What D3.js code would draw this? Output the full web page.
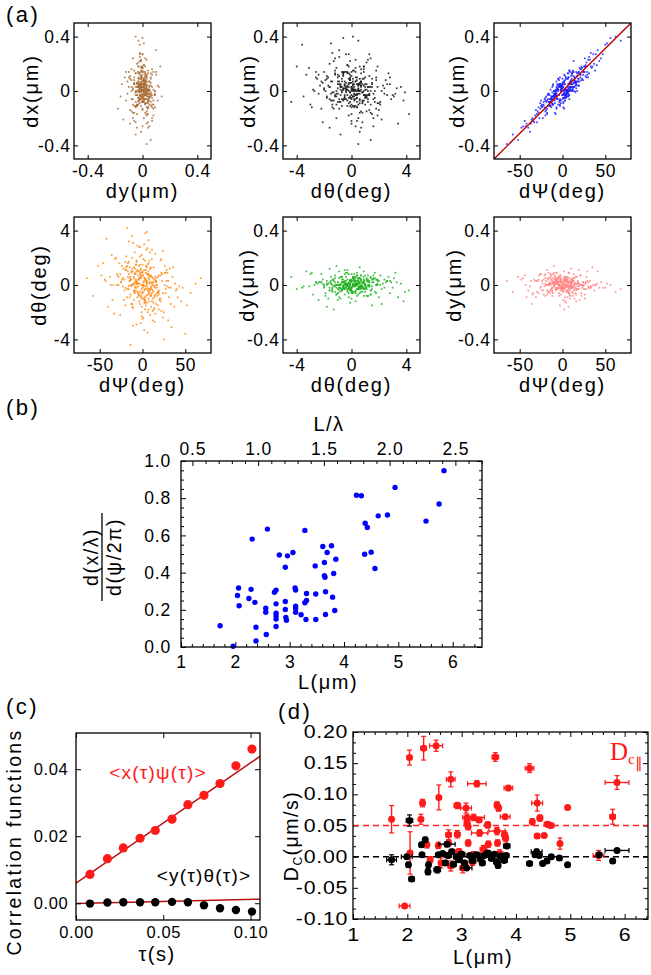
<!DOCTYPE html>
<html><head><meta charset="utf-8">
<script src="https://cdn.jsdelivr.net/npm/d3@7"></script>
<style>body{margin:0;background:#fff}</style>
</head><body>
<script>
// ================= DATA =================
// (a) step-to-step fluctuations of one set of trajectories.
// dPsi in deg, dX and dY in units of 0.01 µm, dTheta in units of 0.1 deg
const dPsi=[5,-12,23,-3,17,-28,9,0,-15,31,-7,12,
-21,4,14,-9,38,-2,7,-18,26,-33,11,-5,
2,19,-11,-25,8,45,-14,3,-6,21,-40,15,
-1,28,-17,10,-8,6,-30,13,35,-4,24,-13,
16,-22,1,-10,50,-19,7,29,-36,4,-3,18,
-27,9,-16,22,-7,2,41,-12,14,-24,6,-52,
11,-2,33,-9,20,-14,0,25,-20,8,-43,13,
3,-31,17,-6,27,10,-18,56,-11,5,-26,19,
-8,14,-3,30,-21,7,-13,1,39,-16,23,-35,
6,-10,16,-29,12,-4,47,-23,2,26,-7,9,
-15,32,-1,-38,15,4,-19,21,-5,11,62,-12,
18,-26,8,-2,36,-9,13,-46,3,24,-14,0,
10,-20,28,-11,5,-32,19,7,-6,43,-17,2,
-24,15,-3,22,-8,34,-13,4,-58,12,-1,27,
7,-16,20,-37,9,-5,16,52,-22,1,-9,30,
-12,3,-28,13,25,-7,8,-42,17,-2,37,-19,
14,-4,11,-23,29,6,-15,2,-34,21,-10,68,
-6,24,-18,9,-48,16,3,-12,31,-25,5,40,
1,-9,19,-30,12,-2,26,-17,8,-65,15,-7,
22,-14,4,33,-20,10,-3,18,-44,7,27,-11,
3,-6,10,-2,7,-11,1,5,-8,14,-4,0,
-9,6,-1,12,-5,2,-14,8,4,-3,17,-7,
0,9,-12,5,-2,11,-6,3,-16,7,-1,13,
-4,2,15,-9,6,-13,1,10,-5,4,-20,8,
11,-3,0,-7,19,-10,5,-1,9,-15,2,6,
-2,13,-8,3,-12,7,0,-5,16,-9,4,-3,
8,-15,2,10,-4,1,-10,6,-2,12,-6,21,
-7,4,-3,9,0,-18,11,-1,5,-8,3,14,
1,-5,7,-12,15,-2,4,-9,10,0,-13,6,
-10,3,12,-4,2,8,-16,5,-1,18,-7,0];
const dX=[-1,-1,17,-10,13,-12,3,9,-10,13,0,5,
-6,-3,10,-3,15,5,2,-7,24,-23,0,9,
-5,14,-10,-11,15,24,-8,-7,2,16,-27,4,
2,10,-3,5,-17,9,-17,22,18,5,12,-7,
5,-10,-9,0,34,-14,13,12,-21,-2,5,13,
-20,14,-8,8,7,-3,30,-6,0,-12,3,-36,
13,-9,18,-2,7,1,-3,18,-5,-6,-26,11,
1,-14,4,5,19,3,-17,39,5,-2,-13,4,
-1,7,5,10,-12,10,-12,-12,27,-2,9,-20,
13,-5,6,-15,0,3,27,-20,12,18,-13,3,
-11,23,4,-30,-1,10,-8,12,-10,13,40,3,
7,-9,-3,1,27,-7,3,-26,11,8,-8,-3,
7,-18,21,4,0,-18,4,10,-6,22,-2,-13,
-10,6,-11,16,1,17,-5,-5,-32,15,0,11,
-3,-8,17,-24,2,9,2,35,-8,-2,-16,23,
-4,-7,-16,14,14,3,0,-24,0,3,20,-4,
3,8,5,-11,14,-4,-3,6,-22,10,-4,37,
4,14,-16,7,-27,14,-5,-9,25,-7,-1,19,
-8,-3,14,-23,14,-7,14,-6,15,-39,6,-12,
18,-11,-4,28,-15,8,10,7,-22,-4,18,-4,
5,-6,1,3,5,-10,7,-1,-3,8,3,-6,
-9,9,1,1,1,0,-6,3,9,-7,11,-3,
4,3,-6,-4,1,12,-6,8,-11,0,2,3,
-3,7,6,-4,-1,-4,-5,7,0,0,-7,1,
9,-6,5,-5,9,0,1,2,0,-8,5,-1,
4,6,-2,-2,-6,-2,2,1,7,0,1,-7,
1,-6,-1,11,-8,3,-2,1,0,2,2,12,
-2,-3,4,5,3,-13,3,4,0,-1,-4,10,
-5,1,5,-10,7,4,-3,-4,5,6,-5,0,
-3,1,3,4,-2,6,-8,-2,3,9,1,-3];
const dY=[2,-5,0,7,-3,4,-8,1,5,-2,9,-6,
-1,3,-10,6,0,-4,2,11,-7,4,-2,1,
5,-3,8,-1,-6,2,0,-12,3,7,-4,1,
-2,6,-5,0,4,-9,3,-1,13,-6,2,-3,
1,-7,4,9,-2,0,-5,3,-14,6,-1,2,
7,-3,1,-6,5,-2,10,-8,0,3,-4,6,
-5,2,-1,4,-11,8,1,-3,5,-7,0,3,
4,-9,6,-2,1,12,-4,0,-6,3,8,-1,
-3,5,-15,2,7,-1,4,-5,0,9,-2,-7,
6,0,-4,3,-8,5,-2,1,10,-3,4,-10,
-6,3,2,-1,6,-13,0,7,-3,4,-5,1,
3,-2,9,-7,0,4,-1,5,-9,2,6,-4,
0,8,-3,1,-5,3,11,-6,2,-2,5,-18,
-4,1,6,-8,3,-1,7,0,-5,4,-3,2,
9,-5,0,3,-2,6,-7,1,4,-11,2,-1,
-2,4,-6,8,0,-3,5,-9,1,7,-4,3,
1,-8,3,-4,10,-1,2,6,-6,0,14,-3,
5,-1,-7,2,4,-12,0,3,-2,8,-5,1,
-3,7,1,-5,2,5,-10,4,-1,3,-6,9,
0,-4,6,-2,-8,1,3,-3,7,-16,2,5,
1,-2,4,0,-3,2,-1,3,-4,1,0,-2,
2,-1,-3,5,0,-2,1,-4,3,0,-1,2,
-3,0,2,-1,4,-2,3,0,-5,1,2,-1,
0,3,-2,1,-1,4,-3,2,0,-4,1,3,
-1,2,0,-3,1,-1,5,-2,2,0,-3,1,
3,-4,1,0,-2,2,-1,4,-3,1,0,-2,
-2,1,3,-1,0,-5,2,-1,4,-2,1,0,
4,-1,-2,2,-3,0,1,-1,3,-2,5,-3,
0,2,-1,-4,1,3,-2,0,-1,2,-3,4,
-1,0,3,-2,2,-1,0,4,-2,-3,1,2];
const dTheta=[8,-14,3,21,-6,0,12,-25,5,-2,17,-10,
-4,26,-17,9,1,-9,33,-3,14,-21,6,-1,
11,-7,-30,2,18,-12,4,38,-5,7,-16,23,
-20,3,10,-8,15,-2,0,-13,6,28,-24,9,
2,-11,19,-4,-36,13,7,-1,22,-15,5,-6,
16,-3,8,-19,1,30,-9,12,-27,4,-7,14,
-12,6,-2,24,-10,0,9,-40,17,-5,3,-18,
5,20,-8,11,-3,-16,42,-6,1,13,-22,7,
-1,-9,15,-26,4,10,-14,2,-4,32,8,-11,
27,-5,0,7,-19,14,-2,5,-33,9,18,-8,
3,12,-23,6,-7,-1,21,-12,10,-3,1,36,
-15,8,4,-28,13,-6,2,16,-9,25,-44,0,
7,-2,11,-17,3,19,-5,-10,29,-1,6,-13,
14,-21,1,9,-4,-31,10,4,-8,2,22,-6,
-3,17,-11,0,24,-7,5,-15,12,-24,8,3,
10,-13,6,-5,-20,15,1,34,-2,7,-16,11,
-8,4,26,-1,9,-35,13,-4,0,18,-11,5,
1,-6,14,-22,7,3,-18,20,-9,2,39,-3,
-10,12,-4,8,-26,6,0,16,-12,5,-2,-29,
19,-7,2,-14,11,-1,28,-5,4,-18,9,31,
4,-9,2,12,-5,0,7,-13,3,-1,10,-6,
-2,15,-8,5,1,-11,6,-3,9,-14,0,3,
7,-4,-16,1,11,-6,2,18,-3,5,-10,13,
-12,3,6,-5,8,-1,0,-7,4,14,-15,2,
1,-7,10,-2,-18,6,3,0,12,-9,5,-4,
9,-1,4,-11,0,16,-6,7,-14,2,-3,8,
-6,3,-1,13,-8,0,5,-20,9,-4,1,-10,
2,11,-5,6,-2,-9,19,-3,0,8,-12,4,
-1,-6,8,-14,3,5,-8,1,-2,15,4,-7,
13,-3,0,5,-10,7,-1,2,-16,6,10,-5];
const umTicks=[-0.4,0,0.4], umTickLabels=["-0.4","0","0.4"];
const degSmallTicks=[-4,0,4], degSmallTickLabels=["-4","0","4"];
const psiTicks=[-50,0,50], psiTickLabels=["-50","0","50"];
const fitPsiX=[[-80,-0.5],[80,0.5]];   // red line in dx vs dΨ

// (b)
const bL=[1.72,1.96,2.04,2.06,2.07,2.25,2.29,2.31,2.36,2.38,2.38,2.56,2.56,2.57,2.59,2.72,2.75,2.75,2.75,2.75,2.75,2.75,2.81,2.92,2.92,2.92,2.93,2.94,2.96,3.06,3.10,3.11,3.11,3.11,3.11,3.21,3.28,3.28,3.30,3.31,3.31,3.47,3.48,3.48,3.61,3.64,3.64,3.65,3.66,3.66,3.69,3.77,3.79,3.81,3.83,3.85,4.23,4.32,4.38,4.39,4.43,4.50,4.57,4.63,4.80,4.94,5.51,5.75,5.84];
const bRatio=[0.114,0.004,0.277,0.317,0.222,0.261,0.31,0.58,0.24,0.106,0.032,0.187,0.209,0.067,0.634,0.294,0.306,0.232,0.182,0.166,0.15,0.11,0.495,0.429,0.245,0.202,0.159,0.144,0.49,0.508,0.317,0.306,0.22,0.207,0.187,0.173,0.627,0.238,0.148,0.288,0.25,0.436,0.148,0.285,0.54,0.454,0.384,0.375,0.297,0.175,0.508,0.544,0.268,0.395,0.196,0.472,0.816,0.813,0.499,0.665,0.643,0.51,0.422,0.705,0.71,0.858,0.677,0.769,0.948];
const lambda=2.42;
const bTicks=[1,2,3,4,5,6], bTopTicks=[0.5,1.0,1.5,2.0,2.5], bTopTickLabels=["0.5","1.0","1.5","2.0","2.5"];
const bYTicks=[0,0.2,0.4,0.6,0.8,1.0], bYTickLabels=["0.0","0.2","0.4","0.6","0.8","1.0"];

// (c)
const tau=[0.0080,0.0180,0.0271,0.0367,0.0454,0.0550,0.0641,0.0733,0.0825,0.0916,0.1008];
const corrXPsi=[0.0086,0.0133,0.0165,0.0194,0.0217,0.0251,0.0294,0.0322,0.0357,0.0410,0.0460];
const corrYTheta=[-0.0001,0.0002,0.0003,0.0003,0.0003,0.0004,0.0003,-0.0006,-0.0015,-0.0020,-0.0025];
const fitXPsi={a:0.0060,b:0.359}, fitYTheta={a:-0.0001,b:0.0124};
const cXTicks=[0,0.05,0.10], cXTickLabels=["0.00","0.05","0.10"];
const cYTicks=[0,0.02,0.04], cYTickLabels=["0.00","0.02","0.04"];

// (d)
const redL=[1.71,2.04,2.30,2.53,2.80,3.28,3.62,3.86,4.25,4.39,4.95,5.86,5.78,2.28,2.58,2.25,2.05,2.36,2.57,2.92,3.08,3.10,3.10,3.12,3.22,3.32,3.48,3.65,3.33,2.76,2.92,3.79,3.81,3.66,3.49,3.12,2.76,3.65,3.68,3.80,4.30,4.44,4.58,4.64,4.39,4.52,4.81,5.52,1.95,2.62,2.80,3.02,3.20,2.42,3.22,3.70,2.95,3.40];
const redD=[0.060,0.159,0.174,0.178,0.124,0.117,0.160,0.110,0.142,0.086,0.079,0.119,0.064,0.086,0.095,0.060,0.006,0.019,0.018,0.082,0.078,0.062,0.054,0.048,0.063,0.059,0.051,0.041,0.038,0.035,0.036,0.035,0.030,0.022,0.020,0.022,0.022,0.083,0.078,0.064,0.056,0.062,0.052,0.050,0.033,0.034,0.021,0.002,-0.079,-0.010,-0.015,-0.018,-0.008,-0.005,0.003,0.005,0.008,0.012];
const redLerr=[0.03,0.04,0.05,0.12,0.08,0.17,0.06,0.08,0.08,0.10,0.03,0.22,0.05,0.04,0.04,0.04,0.04,0.03,0.03,0.06,0.10,0.05,0.05,0.04,0.20,0.05,0.05,0.15,0.15,0.05,0.05,0.05,0.05,0.04,0.04,0.04,0.04,0.04,0.04,0.09,0.04,0.05,0.06,0.06,0.04,0.04,0.04,0.10,0.10,0.04,0.05,0.05,0.06,0.04,0.06,0.06,0.05,0.06];
const redDerr=[0.022,0.012,0.019,0.009,0.012,0.005,0.007,0.004,0.007,0.013,0.003,0.011,0.012,0.006,0.020,0.008,0.034,0.005,0.005,0.005,0.008,0.006,0.006,0.005,0.005,0.004,0.005,0.006,0.005,0.008,0.006,0.006,0.006,0.005,0.005,0.005,0.005,0.005,0.005,0.003,0.005,0.005,0.004,0.004,0.003,0.003,0.009,0.008,0.003,0.008,0.008,0.008,0.006,0.005,0.005,0.006,0.005,0.006];
const blackL=[1.71,1.99,2.04,2.02,2.08,2.26,2.33,2.27,2.39,2.38,2.55,2.57,2.73,2.65,2.75,2.82,2.90,2.95,3.00,3.05,3.09,3.15,3.20,3.28,3.35,3.42,3.48,3.55,3.60,3.64,3.67,3.72,3.78,3.83,3.82,2.70,2.85,3.38,4.25,4.38,4.35,4.43,4.49,4.57,4.65,4.80,4.95,5.53,5.78,5.86];
const blackD=[-0.005,0.000,0.058,-0.013,-0.036,0.019,0.027,0.003,-0.013,-0.024,-0.021,0.003,0.020,0.005,0.002,0.008,0.000,-0.005,0.004,-0.010,-0.018,0.002,-0.006,0.003,-0.004,0.002,0.006,-0.003,0.004,-0.008,-0.014,0.001,-0.006,0.017,0.002,-0.010,-0.012,-0.010,-0.011,0.008,0.003,0.002,-0.011,-0.007,0.000,-0.002,-0.013,0.003,-0.007,0.010];
const blackLerr=[0.09,0.10,0.06,0.03,0.05,0.03,0.03,0.04,0.03,0.04,0.06,0.03,0.15,0.05,0.06,0.05,0.05,0.06,0.06,0.05,0.10,0.05,0.06,0.06,0.05,0.06,0.05,0.05,0.05,0.05,0.04,0.05,0.06,0.06,0.05,0.05,0.05,0.05,0.05,0.10,0.04,0.04,0.04,0.04,0.04,0.04,0.03,0.05,0.04,0.22];
const blackDerr=[0.008,0.003,0.009,0.004,0.003,0.004,0.004,0.003,0.004,0.005,0.005,0.003,0.004,0.003,0.004,0.004,0.003,0.004,0.004,0.004,0.004,0.003,0.004,0.003,0.003,0.003,0.003,0.003,0.003,0.004,0.004,0.003,0.003,0.003,0.003,0.004,0.004,0.004,0.003,0.004,0.003,0.003,0.003,0.003,0.003,0.003,0.003,0.003,0.003,0.003];
const dRefLevels=[0.05,0.0];
const dXTicks=[1,2,3,4,5,6];
const dYTicks=[-0.10,-0.05,0,0.05,0.10,0.15,0.20], dYTickLabels=["-0.10","-0.05","0.00","0.05","0.10","0.15","0.20"];

// ================= DRAWING =================
const FONT='"Liberation Sans", Arial, Helvetica, sans-serif';
const svg=d3.select("body").append("svg").attr("width",651).attr("height",975).style("display","block");
svg.append("rect").attr("width",651).attr("height",975).attr("fill","#fff");

function txt(g,x,y,s,o={}){
  const t=g.append("text").attr("x",x).attr("y",y).text(s)
    .attr("font-family",o.family||FONT).attr("font-size",o.size||19)
    .attr("fill",o.fill||"#000").attr("text-anchor",o.anchor||"middle");
  if(o.ls!=null) t.attr("letter-spacing",o.ls);
  if(o.dy) t.attr("dy",o.dy);
  if(o.rot!=null) t.attr("transform",`rotate(${o.rot},${x},${y})`);
  return t;
}
function drawAxis(g,axis,tx,ty,fs,ls,sx){
  const a=g.append("g").attr("transform",`translate(${tx},${ty})`).call(axis);
  a.attr("font-size",null).attr("font-family",null);
  a.select(".domain").remove();
  a.selectAll(".tick line").attr("stroke","#000").attr("stroke-width",1);
  a.selectAll(".tick text").attr("font-family",FONT).attr("font-size",fs).attr("fill","#000")
    .attr("letter-spacing",ls||0);
  if(sx) a.selectAll(".tick text").attr("transform",`scale(${sx},1)`);
  return a;
}
function frame(g,x0,y0,x1,y1,sw){
  g.append("rect").attr("x",x0).attr("y",y0).attr("width",x1-x0).attr("height",y1-y0)
   .attr("fill","none").attr("stroke","#000").attr("stroke-width",sw||1.3);
}
function fourSide(g,xs,ys,x0,y0,x1,y1,xt,yt,len,xl,yl,fs,ls,padX,padY,sx){
  drawAxis(g,d3.axisBottom(xs).tickValues(xt).tickSize(-len).tickPadding(padX).tickFormat(xl?((d,i)=>xl[i]):""),0,y1,fs,ls,sx);
  drawAxis(g,d3.axisTop(xs).tickValues(xt).tickSize(-len).tickFormat(""),0,y0,fs,ls);
  drawAxis(g,d3.axisLeft(ys).tickValues(yt).tickSize(-len).tickPadding(padY).tickFormat(yl?((d,i)=>yl[i]):""),x0,0,fs,ls,sx);
  drawAxis(g,d3.axisRight(ys).tickValues(yt).tickSize(-len).tickFormat(""),x1,0,fs,ls);
}

// ---------- (a) ----------
const gA=svg.append("g");
txt(gA,6,22,"(a)",{size:22,anchor:"start",ls:2.5});
const aCols=[[74,211],[283,420],[494,631]];
const aRows=[[23,159],[217,353]];
const V={
  dPsi:{vals:dPsi,unit:1,domain:[-80,80],ticks:psiTicks,labels:psiTickLabels,title:"dΨ(deg)"},
  dX:{vals:dX,unit:0.01,domain:[-0.5,0.5],ticks:umTicks,labels:umTickLabels,title:"dx(μm)"},
  dY:{vals:dY,unit:0.01,domain:[-0.5,0.5],ticks:umTicks,labels:umTickLabels,title:"dy(μm)"},
  dTheta:{vals:dTheta,unit:0.1,domain:[-5,5],ticks:degSmallTicks,labels:degSmallTickLabels,title:"dθ(deg)"}
};
const aPanels=[
  {row:0,col:0,x:"dY",y:"dX",color:"#a86c33",yt:31},
  {row:0,col:1,x:"dTheta",y:"dX",color:"#111111",yt:248},
  {row:0,col:2,x:"dPsi",y:"dX",color:"#1a1aff",yt:457,fit:true},
  {row:1,col:0,x:"dPsi",y:"dTheta",color:"#ff8a14",yt:39},
  {row:1,col:1,x:"dTheta",y:"dY",color:"#1cb01c",yt:247},
  {row:1,col:2,x:"dPsi",y:"dY",color:"#ff8484",yt:454}
];
aPanels.forEach((p,k)=>{
  const [x0,x1]=aCols[p.col],[y0,y1]=aRows[p.row];
  const X=V[p.x],Y=V[p.y];
  const n=Math.min(X.vals.length,Y.vals.length);
  const xs=d3.scaleLinear().domain(X.domain).range([x0,x1]);
  const ys=d3.scaleLinear().domain(Y.domain).range([y1,y0]);
  const g=gA.append("g");
  const cid="clipA"+k;
  g.append("clipPath").attr("id",cid).append("rect").attr("x",x0).attr("y",y0).attr("width",x1-x0).attr("height",y1-y0);
  const pts=g.append("g").attr("clip-path",`url(#${cid})`);
  pts.selectAll("rect").data(d3.range(n)).join("rect")
    .attr("x",i=>xs(X.vals[i]*X.unit)-0.85).attr("y",i=>ys(Y.vals[i]*Y.unit)-0.85)
    .attr("width",1.7).attr("height",1.7).attr("fill",p.color).attr("fill-opacity",0.85);
  if(p.fit){
    pts.append("line").attr("x1",xs(fitPsiX[0][0])).attr("y1",ys(fitPsiX[0][1]))
      .attr("x2",xs(fitPsiX[1][0])).attr("y2",ys(fitPsiX[1][1]))
      .attr("stroke","#c00000").attr("stroke-width",1.4);
  }
  fourSide(g,xs,ys,x0,y0,x1,y1,X.ticks,Y.ticks,4,X.labels,Y.labels,17.5,0.6,5.6,3.5);
  txt(g,(x0+x1)/2,p.row===0?198:392,X.title,{size:20,ls:1.8});
  txt(g,p.yt,(y0+y1)/2,Y.title,{size:20,ls:1.8,rot:-90,dy:"0.35em"});
  frame(g,x0,y0,x1,y1);
});

// ---------- (b) ----------
const gB=svg.append("g");
txt(gB,6,415,"(b)",{size:22,anchor:"start",ls:2.5});
{
  const x0=181,x1=482,y0=461,y1=647;
  const xs=d3.scaleLinear().domain([1,6.54]).range([x0,x1]);
  const xt=d3.scaleLinear().domain([1/lambda,6.54/lambda]).range([x0,x1]);
  const ys=d3.scaleLinear().domain([0,1]).range([y1,y0]);
  const minorX=d3.range(1.2,6.54,0.2).filter(v=>Math.abs(v-Math.round(v))>0.05);
  const minorT=d3.range(0.5,2.71,0.1).filter(v=>Math.abs(v*2-Math.round(v*2))>0.05);
  const minorY=d3.range(0.05,1.0,0.05).filter(v=>Math.abs(v*5-Math.round(v*5))>0.05);
  drawAxis(gB,d3.axisBottom(xs).tickValues(minorX).tickSize(-3).tickFormat(""),0,y1,17);
  drawAxis(gB,d3.axisLeft(ys).tickValues(minorY).tickSize(-3).tickFormat(""),x0,0,17);
  drawAxis(gB,d3.axisRight(ys).tickValues(minorY).tickSize(-3).tickFormat(""),x1,0,17);
  drawAxis(gB,d3.axisTop(xt).tickValues(minorT).tickSize(-3).tickFormat(""),0,y0,17);
  drawAxis(gB,d3.axisBottom(xs).tickValues(bTicks).tickSize(-5).tickPadding(9).tickFormat(d=>String(d)),0,y1,17.5,0.8);
  drawAxis(gB,d3.axisTop(xt).tickValues(bTopTicks).tickSize(-5).tickPadding(6).tickFormat((d,i)=>bTopTickLabels[i]),0,y0,17.5,0.8);
  drawAxis(gB,d3.axisLeft(ys).tickValues(bYTicks).tickSize(-5).tickPadding(10).tickFormat((d,i)=>bYTickLabels[i]),x0,0,17.5,0.8);
  drawAxis(gB,d3.axisRight(ys).tickValues(bYTicks).tickSize(-5).tickFormat(""),x1,0,17);
  gB.append("g").selectAll("circle").data(d3.range(bL.length)).join("circle")
    .attr("cx",i=>xs(bL[i])).attr("cy",i=>ys(bRatio[i])).attr("r",2.7).attr("fill","#0000ff");
  frame(gB,x0,y0,x1,y1);
  txt(gB,329,431,"L/λ",{size:20,ls:1.5});
  txt(gB,328,689,"L(μm)",{size:20,ls:1.5});
  const fr=gB.append("g").attr("transform","translate(102,557) rotate(-90)");
  fr.append("line").attr("x1",-44).attr("x2",44).attr("y1",0).attr("y2",0).attr("stroke","#000").attr("stroke-width",1.3);
  txt(fr,0,-4,"d(x/λ)",{size:19.5,ls:1.5});
  txt(fr,0,19,"d(ψ/2π)",{size:19.5,ls:1.5});
}

// ---------- (c) ----------
const gC=svg.append("g");
txt(gC,6,714,"(c)",{size:22,anchor:"start",ls:2.5});
{
  const x0=76,x1=260,y0=733,y1=920;
  const xs=d3.scaleLinear().domain([0,0.1054]).range([x0,x1]);
  const ys=d3.scaleLinear().domain([-0.005,0.0508]).range([y1,y0]);
  gC.append("clipPath").attr("id","clipC").append("rect").attr("x",x0).attr("y",y0).attr("width",x1-x0).attr("height",y1-y0);
  const pc=gC.append("g").attr("clip-path","url(#clipC)");
  [fitXPsi,fitYTheta].forEach(f=>{
    const dom=xs.domain();
    pc.append("line").attr("x1",xs(dom[0])).attr("y1",ys(f.a+f.b*dom[0]))
      .attr("x2",xs(dom[1])).attr("y2",ys(f.a+f.b*dom[1])).attr("stroke","#b81010").attr("stroke-width",1.5);
  });
  pc.selectAll("circle.r").data(d3.range(tau.length)).join("circle").attr("class","r")
    .attr("cx",i=>xs(tau[i])).attr("cy",i=>ys(corrXPsi[i])).attr("r",4.6).attr("fill","#ff1a1a");
  pc.selectAll("circle.k").data(d3.range(tau.length)).join("circle").attr("class","k")
    .attr("cx",i=>xs(tau[i])).attr("cy",i=>ys(corrYTheta[i])).attr("r",4.2).attr("fill","#000");
  fourSide(gC,xs,ys,x0,y0,x1,y1,cXTicks,cYTicks,5,cXTickLabels,cYTickLabels,16.5,0.6,6.6,7.7);
  frame(gC,x0,y0,x1,y1);
  txt(gC,158,779,"<x(τ)ψ(τ)>",{size:19,ls:1.2,fill:"#ff1a1a"});
  txt(gC,204,882,"<y(τ)θ(τ)>",{size:19,ls:1.2});
  txt(gC,157,961,"τ(s)",{size:20,ls:1.5});
  txt(gC,14,842,"Correlation functions",{size:19.5,ls:2.3,rot:-90,dy:"0.35em"});
}

// ---------- (d) ----------
const gD=svg.append("g");
txt(gD,278,719,"(d)",{size:22,anchor:"start",ls:2.5});
{
  const x0=353,x1=648,y0=732,y1=919;
  const xs=d3.scaleLinear().domain([1,6.43]).range([x0,x1]);
  const ys=d3.scaleLinear().domain([-0.1,0.2]).range([y1,y0]);
  const minorX=d3.range(1.2,6.43,0.2).filter(v=>Math.abs(v-Math.round(v))>0.05);
  const minorY=d3.range(0,19).map(k=>-0.1+k*0.05/3).filter((v,k)=>k%3!==0);
  drawAxis(gD,d3.axisBottom(xs).tickValues(minorX).tickSize(-3).tickFormat(""),0,y1,17);
  drawAxis(gD,d3.axisTop(xs).tickValues(minorX).tickSize(-3).tickFormat(""),0,y0,17);
  drawAxis(gD,d3.axisLeft(ys).tickValues(minorY).tickSize(-3).tickFormat(""),x0,0,17);
  drawAxis(gD,d3.axisRight(ys).tickValues(minorY).tickSize(-3).tickFormat(""),x1,0,17);
  fourSide(gD,xs,ys,x0,y0,x1,y1,dXTicks,dYTicks,5,dXTicks.map(String),dYTickLabels,17.5,0.6,9.5,4,1.22);
  gD.append("clipPath").attr("id","clipD").append("rect").attr("x",x0).attr("y",y0).attr("width",x1-x0).attr("height",y1-y0);
  const pd=gD.append("g").attr("clip-path","url(#clipD)");
  const lvlCol=["#ff2020","#000"];
  dRefLevels.forEach((v,i)=>pd.append("line").attr("x1",x0).attr("x2",x1).attr("y1",ys(v)).attr("y2",ys(v))
    .attr("stroke",lvlCol[i]).attr("stroke-width",1.5).attr("stroke-dasharray","6,4"));
  function series(L,D,Le,De,col){
    const g=pd.append("g");
    const idx=d3.range(L.length);
    g.selectAll("line.h").data(idx).join("line").attr("class","h")
      .attr("x1",i=>xs(L[i]-Le[i])).attr("x2",i=>xs(L[i]+Le[i])).attr("y1",i=>ys(D[i])).attr("y2",i=>ys(D[i]))
      .attr("stroke",col).attr("stroke-width",1.4);
    g.selectAll("line.v").data(idx).join("line").attr("class","v")
      .attr("x1",i=>xs(L[i])).attr("x2",i=>xs(L[i])).attr("y1",i=>ys(D[i]-De[i])).attr("y2",i=>ys(D[i]+De[i]))
      .attr("stroke",col).attr("stroke-width",1.4);
    const caps=[];
    idx.forEach(i=>{
      [-1,1].forEach(s=>{
        caps.push({x1:xs(L[i]+s*Le[i]),x2:xs(L[i]+s*Le[i]),y1:ys(D[i])-2.5,y2:ys(D[i])+2.5});
        caps.push({x1:xs(L[i])-2.5,x2:xs(L[i])+2.5,y1:ys(D[i]+s*De[i]),y2:ys(D[i]+s*De[i])});
      });
    });
    g.selectAll("line.c").data(caps).join("line").attr("class","c")
      .attr("x1",c=>c.x1).attr("x2",c=>c.x2).attr("y1",c=>c.y1).attr("y2",c=>c.y2)
      .attr("stroke",col).attr("stroke-width",1.2);
    g.selectAll("circle").data(idx).join("circle")
      .attr("cx",i=>xs(L[i])).attr("cy",i=>ys(D[i])).attr("r",3.5).attr("fill",col);
  }
  series(redL,redD,redLerr,redDerr,"#ff1a1a");
  series(blackL,blackD,blackLerr,blackDerr,"#000");
  frame(gD,x0,y0,x1,y1);
  const dl=gD.append("text").attr("x",610).attr("y",760).attr("font-family","'Liberation Serif','Times New Roman',serif").attr("fill","#ff1a1a");
  dl.append("tspan").attr("font-size",25).text("D");
  dl.append("tspan").attr("font-size",15).attr("dy",4).text("c");
  dl.append("tspan").attr("font-size",15).attr("dy",4).text("∥");
  txt(gD,483,964,"L(μm)",{size:20,ls:1.5});
  const yl=gD.append("text").attr("transform","translate(298,836) rotate(-90)").attr("text-anchor","middle")
    .attr("font-family",FONT).attr("font-size",19.5).attr("letter-spacing",1.5);
  yl.append("tspan").text("D");
  yl.append("tspan").attr("font-size",12).attr("dy",4).text("C");
  yl.append("tspan").attr("dy",-4).text("(μm/s)");
}
</script>
</body></html>
